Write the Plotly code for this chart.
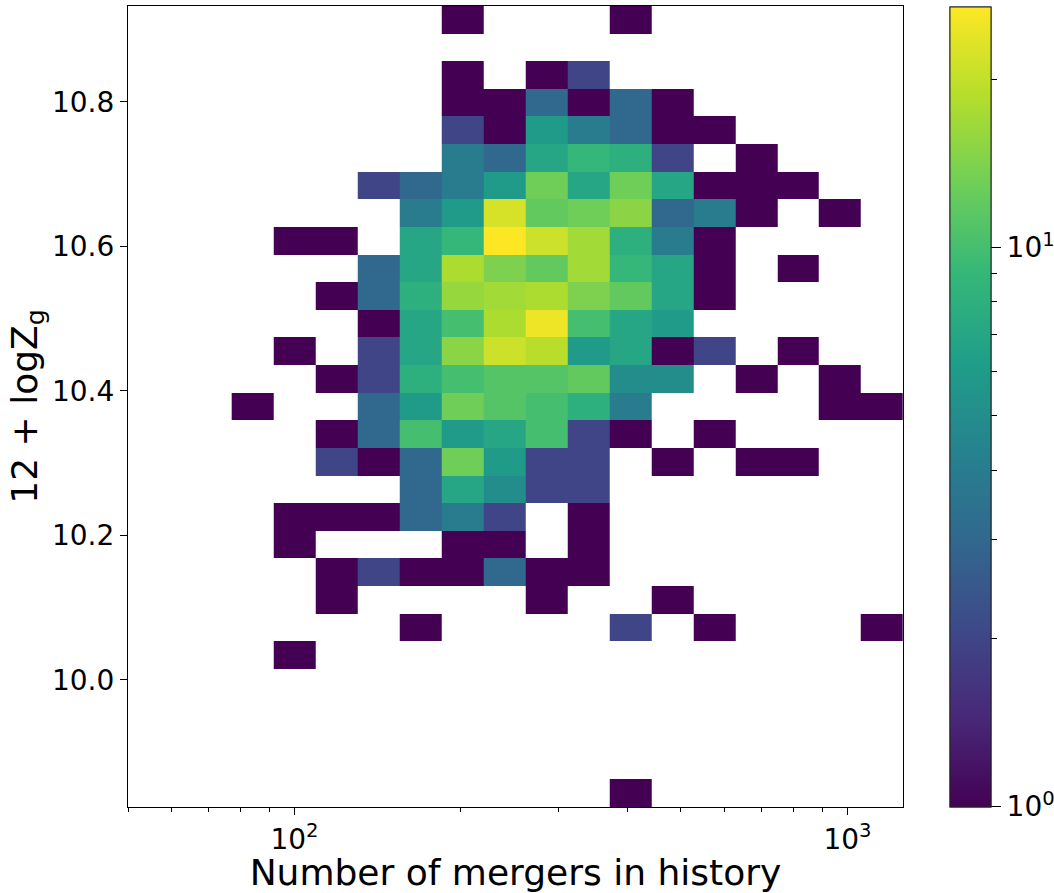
import numpy as np
import plotly.graph_objects as go

# Bin edges (data space)
x_edges = [77.0, 91.68, 109.2, 130.0, 154.9, 184.5, 219.6, 261.6, 311.6, 371.0,
           441.9, 526.2, 626.7, 746.4, 888.8, 1058.2, 1260.3]
y_edges = [9.8241, 9.8623, 9.9006, 9.9388, 9.9770, 10.0153, 10.0535, 10.0917,
           10.1299, 10.1682, 10.2064, 10.2446, 10.2829, 10.3211, 10.3593, 10.3976,
           10.4358, 10.4740, 10.5122, 10.5505, 10.5887, 10.6269, 10.6652, 10.7034,
           10.7416, 10.7799, 10.8181, 10.8563, 10.8945, 10.9328]

# Counts per cell, rows listed from the top (highest Z) to the bottom
counts_top_down = [
    [0, 0, 0, 0, 0, 1, 0, 0, 0, 1, 0, 0, 0, 0, 0, 0],
    [0, 0, 0, 0, 0, 0, 0, 0, 0, 0, 0, 0, 0, 0, 0, 0],
    [0, 0, 0, 0, 0, 1, 0, 1, 2, 0, 0, 0, 0, 0, 0, 0],
    [0, 0, 0, 0, 0, 1, 1, 3, 1, 3, 1, 0, 0, 0, 0, 0],
    [0, 0, 0, 0, 0, 2, 1, 6, 4, 3, 1, 1, 0, 0, 0, 0],
    [0, 0, 0, 0, 0, 4, 3, 7, 9, 8, 2, 0, 1, 0, 0, 0],
    [0, 0, 0, 2, 3, 4, 6, 13, 7, 13, 7, 1, 1, 1, 0, 0],
    [0, 0, 0, 0, 4, 6, 22, 12, 13, 15, 3, 4, 1, 0, 1, 0],
    [0, 1, 1, 0, 7, 9, 27, 21, 17, 8, 4, 1, 0, 0, 0, 0],
    [0, 0, 0, 3, 7, 18, 14, 12, 17, 9, 7, 1, 0, 1, 0, 0],
    [0, 0, 1, 3, 8, 16, 17, 18, 14, 12, 7, 1, 0, 0, 0, 0],
    [0, 0, 0, 1, 7, 10, 18, 25, 10, 7, 6, 0, 0, 0, 0, 0],
    [0, 1, 0, 2, 7, 15, 21, 19, 6, 7, 1, 2, 0, 1, 0, 0],
    [0, 0, 1, 2, 8, 10, 11, 11, 12, 5, 5, 0, 1, 0, 1, 0],
    [1, 0, 0, 3, 6, 13, 11, 10, 8, 4, 0, 0, 0, 0, 1, 1],
    [0, 0, 1, 3, 10, 6, 7, 10, 2, 1, 0, 1, 0, 0, 0, 0],
    [0, 0, 2, 1, 3, 13, 6, 2, 2, 0, 1, 0, 1, 1, 0, 0],
    [0, 0, 0, 0, 3, 7, 5, 2, 2, 0, 0, 0, 0, 0, 0, 0],
    [0, 1, 1, 1, 3, 4, 2, 0, 1, 0, 0, 0, 0, 0, 0, 0],
    [0, 1, 0, 0, 0, 1, 1, 0, 1, 0, 0, 0, 0, 0, 0, 0],
    [0, 0, 1, 2, 1, 1, 3, 1, 1, 0, 0, 0, 0, 0, 0, 0],
    [0, 0, 1, 0, 0, 0, 0, 1, 0, 0, 1, 0, 0, 0, 0, 0],
    [0, 0, 0, 0, 1, 0, 0, 0, 0, 2, 0, 1, 0, 0, 0, 1],
    [0, 1, 0, 0, 0, 0, 0, 0, 0, 0, 0, 0, 0, 0, 0, 0],
    [0, 0, 0, 0, 0, 0, 0, 0, 0, 0, 0, 0, 0, 0, 0, 0],
    [0, 0, 0, 0, 0, 0, 0, 0, 0, 0, 0, 0, 0, 0, 0, 0],
    [0, 0, 0, 0, 0, 0, 0, 0, 0, 0, 0, 0, 0, 0, 0, 0],
    [0, 0, 0, 0, 0, 0, 0, 0, 0, 0, 0, 0, 0, 0, 0, 0],
    [0, 0, 0, 0, 0, 0, 0, 0, 0, 1, 0, 0, 0, 0, 0, 0],
]

count_min = 1
count_max = 27
x_range = [50, 1260.3]

x_major = [100, 1000]
x_major_text = ["10<sup>2</sup>", "10<sup>3</sup>"]
x_minor = [50, 60, 70, 80, 90, 200, 300, 400, 500, 600, 700, 800, 900]
y_ticks = [10.0, 10.2, 10.4, 10.6, 10.8]
cb_major = [1, 10]
cb_major_text = ["10<sup>0</sup>", "10<sup>1</sup>"]
cb_minor = [2, 3, 4, 5, 6, 7, 8, 9, 20]

counts = np.array(counts_top_down[::-1], dtype=float)
z = np.where(counts > 0, np.log10(np.where(counts > 0, counts, 1)), np.nan)
zmin = np.log10(count_min)
zmax = np.log10(count_max)

FONT = "DejaVu Sans"
cb_common = dict(
    x=1.0606, xanchor="left", y=0.5, yanchor="middle",
    len=0.999, lenmode="fraction", thickness=41, thicknessmode="pixels",
    xpad=0, ypad=0, outlinewidth=1, outlinecolor="#222",
)

fig = go.Figure()
fig.add_trace(go.Heatmap(
    x=x_edges, y=y_edges, z=z,
    colorscale="Viridis", zmin=zmin, zmax=zmax,
    hoverongaps=False,
    colorbar=dict(
        **cb_common,
        tickmode="array", tickvals=[np.log10(v) for v in cb_major],
        ticktext=cb_major_text, ticks="outside", ticklen=10, tickwidth=1.3,
        tickcolor="black", tickfont=dict(family=FONT, size=28, color="black"),
    ),
))
fig.add_trace(go.Scatter(
    x=[None], y=[None], mode="markers", hoverinfo="skip", showlegend=False,
    marker=dict(
        color=[zmin], colorscale="Viridis", cmin=zmin, cmax=zmax, showscale=True,
        colorbar=dict(
            **cb_common,
            tickmode="array", tickvals=[np.log10(v) for v in cb_minor],
            ticktext=[""] * len(cb_minor), ticks="outside", ticklen=6,
            tickwidth=1.1, tickcolor="black", showticklabels=False,
        ),
    ),
))

fig.update_layout(
    width=1054, height=893,
    margin=dict(l=128, r=151, t=6, b=86, autoexpand=False),
    paper_bgcolor="white", plot_bgcolor="white",
    font=dict(family=FONT, color="black"),
    showlegend=False,
)
fig.update_xaxes(
    type="log", range=[np.log10(x_range[0]), np.log10(x_range[1])],
    tickmode="array", tickvals=x_major, ticktext=x_major_text,
    ticks="outside", ticklen=7, tickwidth=1.3, tickcolor="black",
    tickfont=dict(family=FONT, size=28),
    minor=dict(tickmode="array", tickvals=x_minor, ticks="outside",
               ticklen=4, tickwidth=1, tickcolor="black", showgrid=False),
    showline=True, mirror=True, linecolor="black", linewidth=1.3,
    showgrid=False, zeroline=False, automargin=False,
    title=dict(text="Number of mergers in history",
               font=dict(family=FONT, size=36), standoff=1),
)
fig.update_yaxes(
    range=[y_edges[0], y_edges[-1]],
    tickmode="array", tickvals=y_ticks, ticktext=[f"{v:.1f}" for v in y_ticks],
    ticks="outside", ticklen=7, tickwidth=1.3, tickcolor="black",
    tickfont=dict(family=FONT, size=28),
    showline=True, mirror=True, linecolor="black", linewidth=1.3,
    showgrid=False, zeroline=False, automargin=False,
    title=dict(text="12 + logZ<sub>g</sub>",
               font=dict(family=FONT, size=36), standoff=3),
)

fig.write_html(
    "out.html",
    config={"displayModeBar": False},
    post_script="document.body.style.margin='0';document.body.style.overflow='hidden';",
)
